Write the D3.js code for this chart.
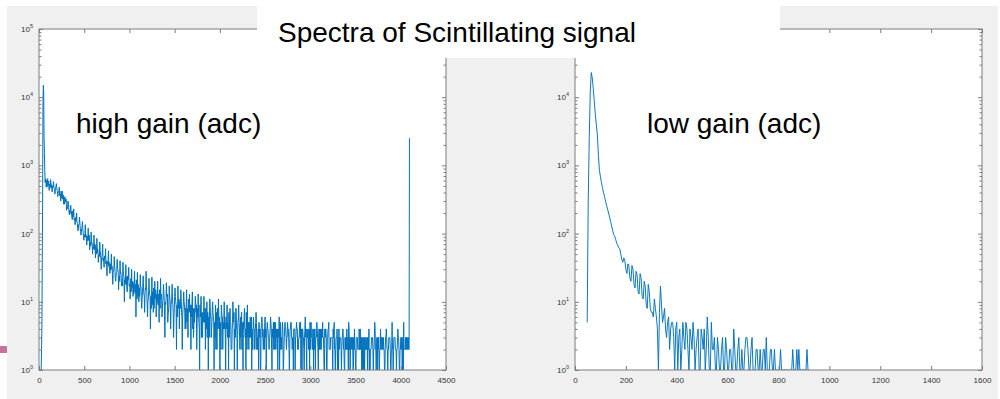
<!DOCTYPE html>
<html><head><meta charset="utf-8">
<script src="https://cdn.jsdelivr.net/npm/d3@7"></script>
<style>body{margin:0;background:#fff}svg{display:block}</style>
</head><body><svg id="c" width="1000" height="399"></svg>
<script>
const titleText = "Spectra of Scintillating signal";
const highLabel = "high gain (adc)";
const lowLabel = "low gain (adc)";
const highXTicks = [0,500,1000,1500,2000,2500,3000,3500,4000,4500];
const lowXTicks = [0,200,400,600,800,1000,1200,1400,1600];
const yDecades = [1,10,100,1000,10000,100000];
const lowYLabels = [1,10,100,1000,10000];   // 10^5 is hidden under the title box

// high gain histogram, sampled every 4 adc; stored as four interleaved lists (step 16 each)
const highBinAdc = 16;
const highStartAdc = 16;   // adc 16, 32, 48 ...
const highCounts = [
  1,4,15000,820,480,640,430,620,410,580,380,540,350,480,300,420,270,
  340,220,300,190,260,160,230,135,200,110,175,95,150,80,135,68,
  120,58,105,50,95,44,85,38,75,30,70,32,60,24,56,26,
  50,18,46,20,42,15,40,17,38,10,35,14,32,11,30,12,
  28,6,27,10,25,8,24,7,28,6,22,4,23,7,20,6,
  20,5,22,6,18,3,19,5,17,4,18,3,16,2,17,4,
  15,2,14,4,15,3,13,2,14,4,12,2,13,1,12,3,
  12,2,10,1,11,3,10,1,9,2,11,1,9,2,10,1,
  9,1,8,2,10,1,8,1,9,2,7,1,8,1,9,2,
  6,1,5,2,7,2,5,1,6,2,5,1,4,2,6,1,
  5,2,4,1,6,2,4,1,5,2,4,1,5,2,4,1,
  5,2,4,1,4,2,6,1,4,1,5,2,4,1,5,1,
  4,2,5,1,4,1,4,2,3,1,5,2,4,1,3,1,
  4,1,3,2,5,1,3,1,4,1,3,2,4,1,3,1,
  3,1,4,2,3,1,5,1,3,1,4,2,3,1,4,1,
  3,1,5,2,3,1,4,1,3,1,5,2,3,2,2500
];
const highQStartAdc = 20;  // adc 20, 36, 52 ...
const highQCounts = [
  1,40,12000,560,610,500,530,560,450,490,430,470,390,360,420,320,
  350,300,250,280,220,190,215,160,175,150,125,140,105,118,96,88,
  92,80,70,86,64,58,66,52,48,56,44,40,47,36,39,33,
  36,30,27,34,24,31,22,26,19,28,21,18,24,17,20,16,
  19,14,21,12,16,17,11,15,13,18,10,15,12,9,16,11,
  13,9,15,11,8,14,10,12,7,13,9,11,6,12,8,10,
  9,11,6,10,8,5,11,7,9,4,8,10,5,7,9,3,
  7,5,8,3,6,9,4,7,5,2,8,6,3,7,5,4,
  6,3,7,5,2,6,4,8,3,5,6,2,5,4,7,3,
  5,3,4,6,2,5,3,4,1,5,3,6,2,4,3,5,
  4,2,5,3,4,1,3,5,2,4,3,4,2,5,3,4,
  3,4,2,5,3,4,1,3,4,2,5,3,4,2,3,4,
  3,2,4,3,1,4,3,5,2,3,4,2,3,1,4,3,
  2,3,1,3,2,4,2,3,1,2,3,2,4,2,3,1,
  3,2,3,1,2,3,2,4,2,3,1,2,3,2,2,3,
  2,3,1,2,3,2,2,3,1,3,2,2,3,2,3
];
const highMidStartAdc = 24; // adc 24, 40, 56 ...
const highMidCounts = [
  1,300,2600,640,480,560,510,470,500,460,470,430,400,370,350,330,
  270,290,230,240,200,210,175,165,150,140,138,120,118,104,90,96,
  84,88,75,70,66,64,58,60,50,52,46,44,42,40,36,38,
  29,33,30,29,27,30,24,27,20,25,18,23,21,17,22,19,
  13,17,15,18,12,16,14,13,16,14,11,13,12,14,8,13,
  11,12,9,13,10,11,9,12,7,11,10,9,8,10,9,8,
  10,7,8,9,4,8,7,9,6,8,5,7,8,5,6,7,
  5,6,5,7,4,6,5,6,4,5,6,4,5,6,4,5,
  4,5,3,5,4,5,3,4,5,4,3,5,4,3,4,5,
  3,4,3,4,4,2,4,3,4,3,4,3,4,3,3,4,
  3,4,3,3,4,3,3,4,3,4,3,3,4,3,3,4,
  3,4,3,3,4,3,3,4,3,3,4,3,3,4,3,3,
  4,3,3,3,4,3,3,2,3,3,3,2,3,3,2,3,
  3,2,3,2,3,2,3,2,3,2,3,2,2,3,2,3,
  2,2,3,2,2,3,2,2,3,2,2,3,2,2,3,2,
  2,3,2,2,3,2,2,3,2,2,3,2,2,3,2
];
const highRStartAdc = 28;  // adc 28, 44, 60 ...
const highRCounts = [
  2,8000,1500,600,540,590,470,520,480,440,500,410,430,380,330,370,
  280,320,240,205,250,175,195,150,165,120,140,108,125,90,100,85,
  78,95,66,72,60,70,50,56,46,42,52,38,44,34,40,30,
  34,25,31,22,28,26,20,25,17,23,19,15,22,18,14,20,
  15,18,11,16,14,10,17,12,15,9,14,12,8,13,11,15,
  10,13,8,12,11,6,10,13,9,8,11,7,12,9,6,11,
  8,6,10,7,9,5,8,6,10,3,7,9,6,4,8,6,
  6,8,4,7,3,6,8,5,3,7,4,6,2,6,5,3,
  5,4,6,2,5,7,3,4,6,2,5,3,6,4,2,5,
  4,6,2,4,5,3,1,4,5,3,2,4,5,3,4,2,
  3,5,2,4,3,5,2,1,4,3,5,2,4,3,1,4,
  4,2,3,5,1,3,4,2,3,4,2,3,1,4,3,2,
  2,4,3,2,3,1,4,2,3,2,4,1,3,2,3,2,
  3,2,2,4,1,3,2,3,2,1,3,2,2,3,1,3,
  2,3,2,1,3,2,3,2,1,3,2,3,2,1,3,2,
  3,2,2,1,3,2,3,2,2,3,1,2,3,2,2
];

// low gain histogram: bins every 8 adc starting at 48, plus in-between bins starting at 52
const lowStartAdc = 48, lowBinAdc = 8;
const lowCounts = [
  5,2500,23000,13000,5500,2800,850,560,400,300,230,175,130,96,82,68,
  60,42,44,30,36,22,34,18,28,14,26,12,20,9,18,8,
  7,11,6,1,17,5,8,3,6,4,5,1,5,3,1,5,
  2,4,1,3,5,1,3,1,4,2,1,6,1,5,2,1,
  3,1,2,1,3,1,2,1,4,1,2,1,2,1,3,2,
  1,3,1,2,1,2,1,2,3,1,2,1,2,1,1,2,
  1,1,1,1,1,2,1,2,2,1,1,1,2,1
];
const lowMidStartAdc = 52;
const lowMidCounts = [
  300,12000,19000,8500,3900,1400,680,470,350,260,200,150,112,92,72,62,
  50,38,40,26,33,20,30,16,25,13,22,11,17,8,14,7,
  6,8,4,7,9,6,4,5,2,5,3,4,1,4,2,3,
  5,2,4,2,3,2,4,1,3,4,2,3,1,2,3,1,
  2,1,3,1,2,1,2,1,2,1,3,1,1,2,3,1,
  2,1,1,2,1,1,2,1,1,1,2,1,1,1,1,1,
  1,1,1,1,1,1,1,1,1,1,1,1,1
];

const svg = d3.select("#c");
const font = "'Liberation Sans', Arial, Helvetica, sans-serif";
const axisCol = "#7d7d7d", labelCol = "#333";

svg.append("rect").attr("x",7).attr("y",6).attr("width",991).attr("height",393).attr("fill","#f0f0f0");

const plotTop = 29, plotBottom = 370;
const panels = [
  {id:"h", x0:39, x1:446, xmax:4500, ticks:highXTicks, ylabels:yDecades, sw:1.0,
   series:[[highStartAdc,highBinAdc,highCounts],[highQStartAdc,highBinAdc,highQCounts],
           [highMidStartAdc,highBinAdc,highMidCounts],[highRStartAdc,highBinAdc,highRCounts]]},
  {id:"l", x0:575, x1:982, xmax:1600, ticks:lowXTicks, ylabels:lowYLabels, sw:0.95,
   series:[[lowStartAdc,lowBinAdc,lowCounts],[lowMidStartAdc,lowBinAdc,lowMidCounts]]}
];

const minorVals = [];
for (let d = 1; d < 100000; d *= 10) for (let m = 2; m <= 9; m++) minorVals.push(d*m);

panels.forEach(p => {
  const x = d3.scaleLinear().domain([0,p.xmax]).range([p.x0,p.x1]);
  const y = d3.scaleLog().domain([1,1e5]).range([plotBottom,plotTop]);
  const g = svg.append("g");
  g.append("rect").attr("x",p.x0).attr("y",plotTop).attr("width",p.x1-p.x0).attr("height",plotBottom-plotTop).attr("fill","#fff");
  g.append("clipPath").attr("id","clip"+p.id).append("rect")
    .attr("x",p.x0).attr("y",plotTop).attr("width",p.x1-p.x0).attr("height",plotBottom-plotTop);
  const data = [];
  p.series.forEach(([s,st,arr]) => arr.forEach((c,i)=>data.push({adc:s+i*st, c:c})));
  data.sort((a,b)=>a.adc-b.adc);
  g.append("path").datum(data).attr("clip-path","url(#clip"+p.id+")")
    .attr("fill","none").attr("stroke","#0072BD").attr("stroke-width",p.sw)
    .attr("d", d3.line().x(d=>x(d.adc)).y(d=>y(d.c)));

  const styleAxis = sel => {
    sel.select(".domain").remove();
    sel.selectAll("line").attr("stroke",axisCol);
    sel.selectAll("text").attr("fill",labelCol).style("font-family",font).style("font-size","8px");
  };
  g.append("g").attr("transform",`translate(0,${plotBottom})`)
    .call(d3.axisBottom(x).tickValues(p.ticks).tickSize(-4).tickSizeOuter(0).tickPadding(7).tickFormat(d3.format("d")))
    .call(styleAxis);
  g.append("g").attr("transform",`translate(0,${plotTop})`)
    .call(d3.axisTop(x).tickValues(p.ticks).tickSize(-4).tickSizeOuter(0).tickFormat(""))
    .call(styleAxis);
  [[d3.axisLeft,p.x0],[d3.axisRight,p.x1]].forEach(([ax,xx])=>{
    g.append("g").attr("transform",`translate(${xx},0)`)
      .call(ax(y).tickValues(yDecades).tickSize(-4).tickSizeOuter(0).tickFormat(""))
      .call(styleAxis);
    g.append("g").attr("transform",`translate(${xx},0)`)
      .call(ax(y).tickValues(minorVals).tickSize(-2.5).tickSizeOuter(0).tickFormat(""))
      .call(styleAxis);
  });
  g.append("rect").attr("x",p.x0).attr("y",plotTop).attr("width",p.x1-p.x0).attr("height",plotBottom-plotTop)
    .attr("fill","none").attr("stroke",axisCol).attr("stroke-width",1);

  p.ylabels.forEach(v=>{
    const t = g.append("text").attr("x",p.x0-6).attr("y",y(v)+3).attr("text-anchor","end")
      .attr("fill",labelCol).style("font-family",font).style("font-size","8px");
    t.append("tspan").text("10");
    t.append("tspan").attr("dy",-4).style("font-size","5.5px").text(Math.round(Math.log10(v)));
  });
});

svg.append("rect").attr("x",257).attr("y",0).attr("width",523).attr("height",58).attr("fill","#fff");
svg.append("rect").attr("x",0).attr("y",346).attr("width",7).attr("height",7).attr("fill","#c2749c");

svg.append("text").attr("x",278).attr("y",42).text(titleText)
  .style("font-family",font).style("font-size","28px").attr("fill","#000");
svg.append("text").attr("x",76).attr("y",133).text(highLabel)
  .style("font-family",font).style("font-size","28px").attr("fill","#000");
svg.append("text").attr("x",647).attr("y",133).text(lowLabel)
  .style("font-family",font).style("font-size","28px").attr("fill","#000");
</script></body></html>
